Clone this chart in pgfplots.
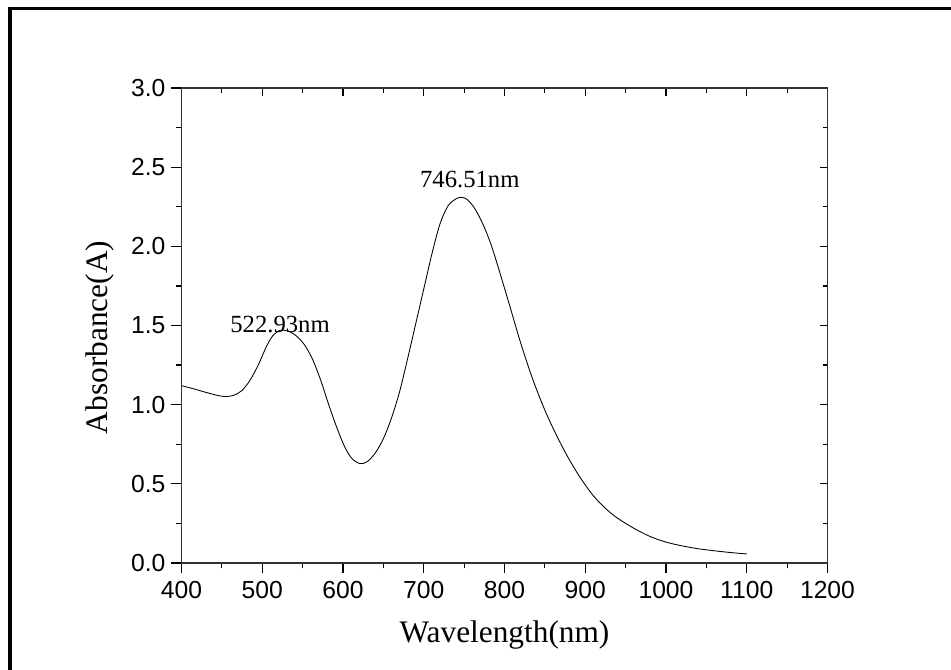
\documentclass[border=0pt]{standalone}
\usepackage{fontspec}
\setmainfont{Liberation Serif}
\newfontfamily\arialfont{Liberation Sans}
\usepackage{pgfplots}
\pgfplotsset{compat=1.18}
\pgfplotstableread{
x y
400 1.12
415 1.10
430 1.078
445 1.058
455 1.051
465 1.06
475 1.09
485 1.155
495 1.25
505 1.365
513 1.435
522 1.47
532 1.465
542 1.435
552 1.38
562 1.29
572 1.16
582 1.005
592 0.86
602 0.735
611 0.66
621 0.628
630 0.64
640 0.695
650 0.785
660 0.915
670 1.08
680 1.29
690 1.51
700 1.73
710 1.95
720 2.14
730 2.255
740 2.30
747 2.31
754 2.295
761 2.255
768 2.195
775 2.12
782 2.03
790 1.905
805 1.65
820 1.39
835 1.16
850 0.965
865 0.80
880 0.655
895 0.53
910 0.425
925 0.345
940 0.283
960 0.22
980 0.168
1000 0.132
1020 0.108
1040 0.09
1060 0.077
1080 0.066
1100 0.057
}\spectrum
\begin{document}
\begin{tikzpicture}
\useasboundingbox (0,0) rectangle (713.25pt,502.5pt);
\draw[line width=2.55pt] (7.5pt,-5pt) -- (7.5pt,495.9pt) -- (720pt,495.9pt);
\begin{axis}[
  at={(136.125pt,80.25pt)}, anchor=south west,
  scale only axis, width=484.5pt, height=356.25pt,
  xmin=400, xmax=1200, ymin=0, ymax=3,
  xtick={400,500,...,1200}, minor x tick num=1,
  ytick={0,0.5,1,1.5,2,2.5,3}, minor y tick num=1,
  xtick pos=left, ytick pos=left,
  tick align=outside,
  major tick length=7.5pt, minor tick length=4pt,
  axis line style={line width=0.9pt, black!80},
  tick style={line width=0.9pt, black},
  /pgf/number format/assume math mode=true,
  /pgf/number format/1000 sep={},
  tick label style={font=\arialfont\fontsize{18.5}{18.5}\selectfont},
  xticklabel style={yshift=-2.5pt},
  yticklabel style={xshift=-1pt, /pgf/number format/fixed, /pgf/number format/fixed zerofill, /pgf/number format/precision=1},
  xlabel={Wavelength(nm)},
  ylabel={Absorbance(A)},
  label style={font=\fontsize{23.5}{23.5}\selectfont},
  xlabel style={at={(axis description cs:0.5,-0.1516)}, anchor=center},
  ylabel style={at={(axis description cs:-0.126,0.4747)}, anchor=center, rotate=0},
  clip=false,
]
\addplot[black, line width=0.65pt, smooth, tension=0.5] table[x=x,y=y] {\spectrum};
\node[anchor=base, font=\fontsize{18.5}{18.5}\selectfont, inner sep=0pt] at (axis cs:757,2.369) {746.51nm};
\node[anchor=base, font=\fontsize{18.5}{18.5}\selectfont, inner sep=0pt] at (axis cs:522,1.457) {522.93nm};
\end{axis}
\begin{axis}[
  at={(136.125pt,80.25pt)}, anchor=south west,
  scale only axis, width=484.5pt, height=356.25pt,
  xmin=400, xmax=1200, ymin=0, ymax=3,
  xtick={400,500,...,1200}, minor x tick num=1,
  ytick={0,0.5,1,1.5,2,2.5,3}, minor y tick num=1,
  xtick pos=right, ytick pos=right,
  tick align=inside,
  major tick length=6pt, minor tick length=3.5pt,
  axis line style={line width=0.9pt, black!80},
  tick style={line width=0.9pt, black},
  xticklabels={}, yticklabels={},
]
\end{axis}
\end{tikzpicture}
\end{document}
